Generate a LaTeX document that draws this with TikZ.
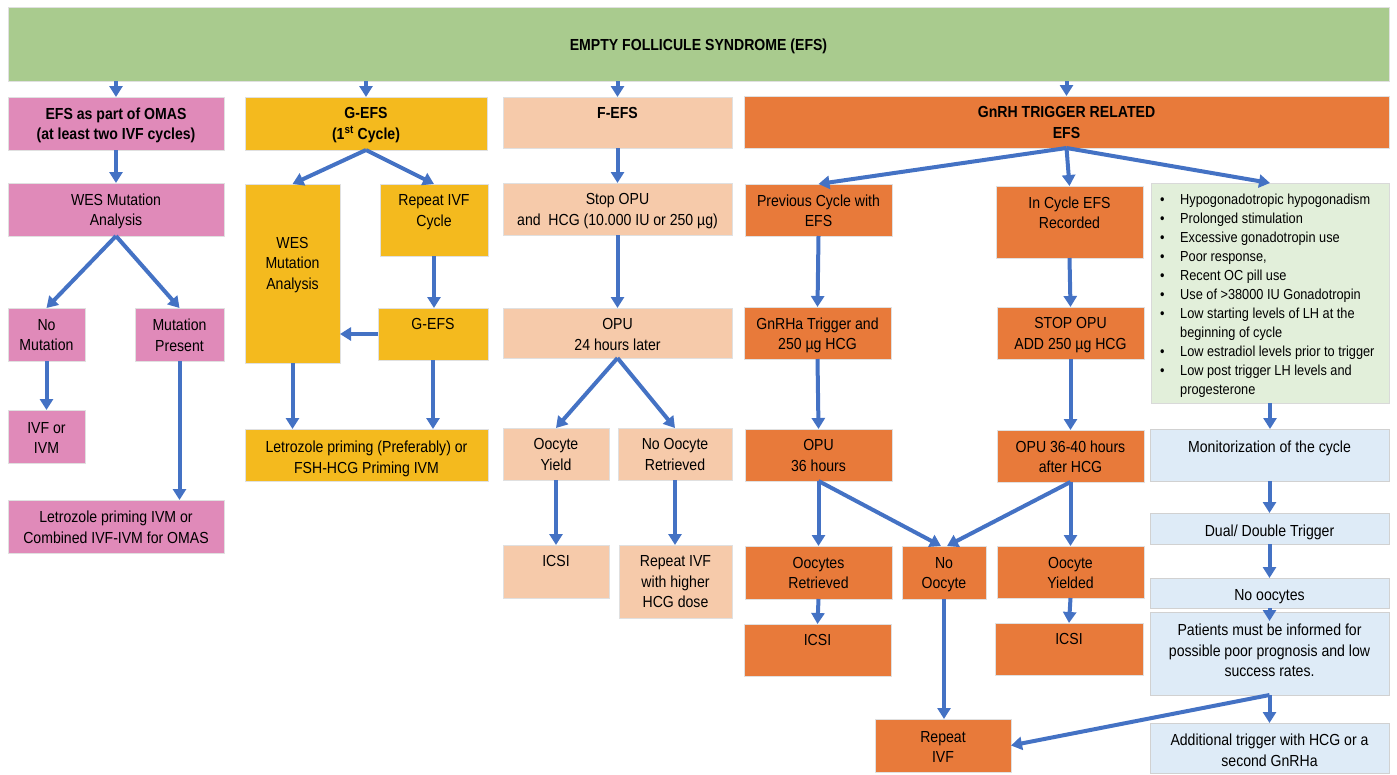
\documentclass[tikz,border=0pt]{standalone}
\usepackage{fontspec}
\setmainfont{Liberation Sans}[FakeStretch=0.88]
\usetikzlibrary{arrows.meta}
\definecolor{bannerc}{RGB}{169,203,142}
\definecolor{pinkc}{RGB}{224,138,185}
\definecolor{yelc}{RGB}{244,186,30}
\definecolor{peachc}{RGB}{246,202,170}
\definecolor{orc}{RGB}{232,122,58}
\definecolor{lgreenc}{RGB}{226,239,218}
\definecolor{lbluec}{RGB}{222,235,247}
\definecolor{arrc}{RGB}{68,114,196}
\newcommand\bx[8][10.5]{%
  \node[#3, minimum width={#6-#4}, minimum height={#7-#5}] (#2) at ({(#4+#6)/2},{(#5+#7)/2}) {};
  \node[txt, anchor=north] (#2-t) at ({(#4+#6)/2},{#5+#1}) {#8};
}
\begin{document}
\begin{tikzpicture}[x=1pt,y=-1pt,
  box/.style={rectangle, inner sep=0pt, outer sep=0pt, draw=black!12, line width=0.6pt},
  bannerb/.style={box, fill=bannerc},
  pinkb/.style={box, fill=pinkc},
  yelb/.style={box, fill=yelc},
  peachb/.style={box, fill=peachc},
  orb/.style={box, fill=orc},
  greenb/.style={box, fill=lgreenc, draw=black!15},
  blueb/.style={box, fill=lbluec, draw=black!18},
  txt/.style={inner sep=0pt, align=center, font=\fontsize{16}{20.5}\selectfont},
  arr/.style={draw=arrc, line width=4pt, -{Triangle[width=13pt,length=11pt]}}]
\useasboundingbox (0,0) rectangle (1397,774);
% banner
\bx{banner}{bannerb}{8}{7}{1389}{81}{}
\node[inner sep=0pt, anchor=base, font=\fontsize{16}{20}\selectfont\bfseries] (title) at (698.5,50.5) {EMPTY FOLLICULE SYNDROME (EFS)};
% column 1
\bx{omas}{pinkb}{8}{97}{224}{150}{\textbf{EFS as part of OMAS}\\\textbf{(at least two IVF cycles)}}
\bx{wes1}{pinkb}{8}{183}{224}{236}{WES Mutation\\Analysis}
\bx[11]{nomut}{pinkb}{8}{308}{85}{361}{No\\Mutation}
\bx[11]{mutp}{pinkb}{135}{308}{224}{361}{Mutation\\Present}
\bx[12]{ivf}{pinkb}{8}{410}{85}{463}{IVF or\\IVM}
\bx[11]{let1}{pinkb}{8}{500}{224}{553}{Letrozole priming IVM or\\Combined IVF-IVM for OMAS}
% column 2
\bx{gefs}{yelb}{245}{97}{487}{150}{\textbf{G-EFS}\\\textbf{(1\textsuperscript{st} Cycle)}}
\bx[53]{wes2}{yelb}{245}{184}{340}{363}{WES\\Mutation\\Analysis}
\bx{rep1}{yelb}{380}{184}{488}{256}{Repeat IVF\\Cycle}
\bx{gefs2}{yelb}{378}{308}{488}{360}{G-EFS}
\bx[12]{let2}{yelb}{245}{429}{488}{481}{Letrozole priming (Preferably) or\\FSH-HCG Priming IVM}
% column 3
\bx{fefs}{peachb}{503}{97}{732}{148}{\textbf{F-EFS}}
\bx{stop}{peachb}{503}{183}{732}{235}{Stop OPU\\and\ \ HCG (10.000 IU or 250 µg)}
\bx{opu24}{peachb}{503}{308}{732}{358}{OPU\\24 hours later}
\bx{oyield}{peachb}{503}{428}{609}{480}{Oocyte\\Yield}
\bx{noret}{peachb}{618}{428}{732}{480}{No Oocyte\\Retrieved}
\bx{icsi1}{peachb}{503}{545}{609}{598}{ICSI}
\bx{rephcg}{peachb}{619}{545}{732}{618}{Repeat IVF\\with higher\\HCG dose}
% column 4
\bx{gnrh}{orb}{744}{96}{1389}{148}{\textbf{GnRH TRIGGER RELATED}\\\textbf{EFS}}
\bx{prev}{orb}{745}{184}{892}{236}{Previous Cycle with\\EFS}
\bx{incyc}{orb}{996}{186}{1143}{258}{In Cycle EFS\\Recorded}
\bx{gnrha}{orb}{744}{307}{891}{359}{GnRHa Trigger and\\250 µg HCG}
\bx{stoptwo}{orb}{997}{307}{1144}{359}{STOP OPU\\ADD 250 µg HCG}
\bx{opu36}{orb}{745}{429}{892}{481}{OPU\\36 hours}
\bx{opu3640}{orb}{997}{430}{1144}{482}{OPU 36-40 hours\\after HCG}
\bx[11]{oret}{orb}{745}{546}{892}{599}{Oocytes\\Retrieved}
\bx[11]{noocy}{orb}{902}{546}{986}{599}{No\\Oocyte}
\bx[11]{oyld}{orb}{997}{546}{1144}{598}{Oocyte\\Yielded}
\bx{icsitwo}{orb}{744}{624}{891}{676}{ICSI}
\bx{icsithree}{orb}{995}{623}{1143}{675}{ICSI}
\bx[12]{repivf}{orb}{875}{719}{1011}{772}{Repeat\\IVF}
% right column
\node[greenb, minimum width=238, minimum height=220] (list) at (1270,293) {};
\node[inner sep=0pt, anchor=north west, font=\fontsize{14.5}{19}\selectfont] (list-t) at (1160,191)
 {\begin{tabular}{@{}l@{\hspace{15.5pt}}l@{}}
 • & Hypogonadotropic hypogonadism\\
 • & Prolonged stimulation\\
 • & Excessive gonadotropin use\\
 • & Poor response,\\
 • & Recent OC pill use\\
 • & Use of >38000 IU Gonadotropin\\
 • & Low starting levels of LH at the\\
   & beginning of cycle\\
 • & Low estradiol levels prior to trigger\\
 • & Low post trigger LH levels and\\
   & progesterone
 \end{tabular}};
\bx[12]{monit}{blueb}{1150}{429}{1389}{481}{Monitorization of the cycle}
\bx[11.5]{dual}{blueb}{1150}{513}{1389}{544}{Dual/ Double Trigger}
\bx[11]{nooc}{blueb}{1150}{578}{1389}{608}{No oocytes}
\bx[12]{pat}{blueb}{1150}{612}{1389}{695}{Patients must be informed for\\possible poor prognosis and low\\success rates.}
\bx[11]{addl}{blueb}{1150}{723}{1389}{773}{Additional trigger with HCG or a\\second GnRHa}
% arrows from banner
\draw[arr] (omas.north |- banner.south) -- (omas.north);
\draw[arr] (gefs.north |- banner.south) -- (gefs.north);
\draw[arr] (fefs.north |- banner.south) -- (fefs.north);
\draw[arr] (gnrh.north |- banner.south) -- (gnrh.north);
% column 1
\draw[arr] (omas.south) -- (wes1.north);
\draw[arr] (wes1.south) -- (nomut.north);
\draw[arr] (wes1.south) -- (mutp.north);
\draw[arr] (nomut.south) -- (ivf.north);
\draw[arr] (mutp.south) -- (mutp.south |- let1.north);
% column 2
\draw[arr] (gefs.south) -- (wes2.north);
\draw[arr] (gefs.south) -- (rep1.north);
\draw[arr] (rep1.south) -- (rep1.south |- gefs2.north);
\draw[arr] (gefs2.west) -- (wes2.east |- gefs2.west);
\draw[arr] (wes2.south) -- (wes2.south |- let2.north);
\draw[arr] (gefs2.south) -- (gefs2.south |- let2.north);
% column 3
\draw[arr] (fefs.south) -- (stop.north);
\draw[arr] (stop.south) -- (opu24.north);
\draw[arr] (opu24.south) -- (oyield.north);
\draw[arr] (opu24.south) -- (noret.north);
\draw[arr] (oyield.south) -- (icsi1.north);
\draw[arr] (noret.south) -- (noret.south |- rephcg.north);
% column 4
\draw[arr] (gnrh.south) -- (prev.north);
\draw[arr] (gnrh.south) -- (incyc.north);
\draw[arr] (gnrh.south) -- (list.north);
\draw[arr] (prev.south) -- (gnrha.north);
\draw[arr] (gnrha.south) -- (opu36.north);
\draw[arr] (incyc.south) -- (stoptwo.north);
\draw[arr] (stoptwo.south) -- (opu3640.north);
\draw[arr] (opu36.south) -- (oret.north);
\draw[arr] (opu36.south) -- ([xshift=-3pt]noocy.north);
\draw[arr] (opu3640.south) -- ([xshift=3pt]noocy.north);
\draw[arr] (opu3640.south) -- (oyld.north);
\draw[arr] (oret.south) -- (icsitwo.north);
\draw[arr] (oyld.south) -- (icsithree.north);
\draw[arr] (noocy.south) -- (noocy.south |- repivf.north);
% right column
\draw[arr] (list.south) -- (list.south |- monit.north);
\draw[arr] (monit.south) -- (dual.north);
\draw[arr] (dual.south) -- (nooc.north);
\draw[arr] (nooc.south) -- ([yshift=-9pt]pat.north);
\draw[arr] (pat.south) -- (addl.north);
\draw[arr] (pat.south) -- (repivf.east);
\end{tikzpicture}
\end{document}
